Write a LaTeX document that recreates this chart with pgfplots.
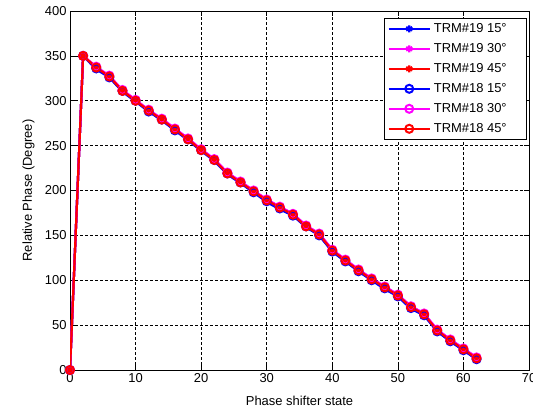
\documentclass[border=0pt]{standalone}
\usepackage{fontspec}
\setmainfont{Liberation Sans}
\usepackage{pgfplots}
\usepackage{pgfplotstable}
\pgfplotsset{compat=1.18}

% Relative phase (degree) versus phase shifter state, two TRMs at three angles
\pgfplotstableread{
x   bA  mA  rA  bB  mB  rB
0   0   0   0   0   0   0
2   350 350 350 350 350 350
4   335 337 337 336 338 337
6   326 327 327 326 328 327
8   310 312 311 311 312 311
10  299 301 300 300 301 300
12  288 289 289 288 290 289
14  278 280 279 279 280 279
16  267 269 268 267 269 268
18  256 258 257 257 258 257
20  244 246 245 245 246 245
22  233 235 234 234 235 234
24  218 220 219 219 220 219
26  208 210 209 209 210 209
28  198 200 199 198 200 199
30  187 190 189 188 190 189
32  179 182 181 180 182 181
34  172 174 173 172 174 173
36  159 161 160 160 161 160
38  150 152 151 150 152 151
40  132 134 133 132 134 133
42  121 123 122 121 123 122
44  110 112 111 110 112 111
46  100 102 101 100 102 101
48  90  93  92  91  93  92
50  82  84  83  82  84  83
52  68  71  70  69  71  70
54  61  63  62  61  63  62
56  43  45  44  43  45  44
58  32  34  33  32  34  33
60  22  24  23  22  24  23
62  12  14  13  12  14  13
}\phasedata

\definecolor{mblue}{RGB}{0,0,255}
\definecolor{mmag}{RGB}{255,0,255}
\definecolor{mred}{RGB}{255,0,0}

% extra room after each legend text
\newcommand\lgpad{\kern14bp\relax}

\begin{document}
\begin{tikzpicture}
\begin{axis}[
  scale only axis,
  width=459bp, height=359bp,
  xmin=0, xmax=70, ymin=0, ymax=400,
  xtick={0,10,...,70}, ytick={0,50,...,400},
  grid=major,
  major grid style={black, line width=0.5bp, dash pattern=on 2.5bp off 2.5bp},
  tick align=inside, major tick length=5bp,
  tick style={black, line width=0.5bp},
  axis line style={black, line width=0.8bp},
  /pgf/number format/assume math mode=true,
  tick label style={font=\fontsize{13}{15}\selectfont},
  label style={font=\fontsize{13}{15}\selectfont},
  xlabel={Phase shifter state},
  ylabel={Relative Phase (Degree)},
  xlabel style={at={(axis description cs:0.5,-0.0975)}, anchor=base},
  ylabel style={at={(axis description cs:-0.0828,0.5)}, anchor=base},
  legend style={
    at={(0.9956,0.9805)}, anchor=north east,
    draw=black, line width=0.6bp, fill=white,
    font=\fontsize{13}{15}\selectfont,
    inner xsep=3bp, inner ysep=0.5bp, row sep=0bp,
    nodes={text height=9.5bp, text depth=2.5bp, inner ysep=4bp, inner xsep=3bp},
    cells={anchor=west},
  },
  legend image code/.code={
    \draw[mark repeat=2, mark phase=2]
      plot coordinates {(0bp,0bp) (20.5bp,0bp) (41bp,0bp)};
  },
  every axis plot/.append style={line width=2.2bp},
]
\addplot[mblue, mark=asterisk, mark size=3.5bp] table[x=x, y=bA] {\phasedata};
\addlegendentry{TRM\#19 15°\lgpad}
\addplot[mmag, mark=asterisk, mark size=3.5bp] table[x=x, y=mA] {\phasedata};
\addlegendentry{TRM\#19 30°\lgpad}
\addplot[mred, mark=asterisk, mark size=3.5bp] table[x=x, y=rA] {\phasedata};
\addlegendentry{TRM\#19 45°\lgpad}
\addplot[mblue, mark=o, mark size=4bp, mark options={line width=2bp}] table[x=x, y=bB] {\phasedata};
\addlegendentry{TRM\#18 15°\lgpad}
\addplot[mmag, mark=o, mark size=4bp, mark options={line width=2bp}] table[x=x, y=mB] {\phasedata};
\addlegendentry{TRM\#18 30°\lgpad}
\addplot[mred, mark=o, mark size=4bp, mark options={line width=2bp}] table[x=x, y=rB] {\phasedata};
\addlegendentry{TRM\#18 45°\lgpad}
\end{axis}
\pgfresetboundingbox
\path (-70bp,-39bp) rectangle (463bp,370bp);
\end{tikzpicture}
\end{document}
